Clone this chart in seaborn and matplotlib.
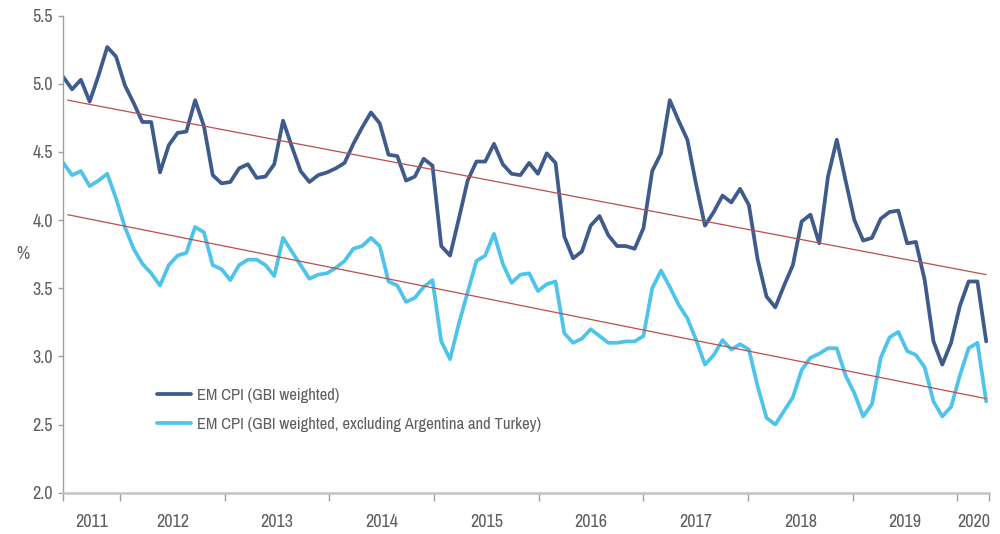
import matplotlib
matplotlib.use('Agg')
import matplotlib.pyplot as plt
from matplotlib import font_manager
from matplotlib.lines import Line2D
import numpy as np
import pandas as pd
import seaborn as sns

# monthly readings, mid-2011 to spring 2020
em_cpi = [5.05, 4.96, 5.03, 4.87, 5.06, 5.27, 5.20, 4.99, 4.86, 4.72,
          4.72, 4.35, 4.55, 4.64, 4.65, 4.88, 4.69, 4.33, 4.27, 4.28,
          4.38, 4.41, 4.31, 4.32, 4.41, 4.73, 4.54, 4.36, 4.28, 4.33,
          4.35, 4.38, 4.42, 4.56, 4.68, 4.79, 4.71, 4.48, 4.47, 4.29,
          4.32, 4.45, 4.40, 3.81, 3.74, 4.01, 4.29, 4.43, 4.43, 4.56,
          4.41, 4.34, 4.33, 4.42, 4.34, 4.49, 4.42, 3.88, 3.72, 3.77,
          3.96, 4.03, 3.89, 3.81, 3.81, 3.79, 3.94, 4.36, 4.49, 4.88,
          4.73, 4.59, 4.26, 3.96, 4.06, 4.18, 4.13, 4.23, 4.11, 3.71,
          3.44, 3.36, 3.52, 3.67, 3.99, 4.04, 3.83, 4.32, 4.59, 4.29,
          4.00, 3.85, 3.87, 4.01, 4.06, 4.07, 3.83, 3.84, 3.56, 3.11,
          2.94, 3.10, 3.37, 3.55, 3.55, 3.11]
em_cpi_ex = [4.42, 4.33, 4.36, 4.25, 4.29, 4.34, 4.16, 3.95, 3.79, 3.68,
             3.61, 3.52, 3.67, 3.74, 3.76, 3.95, 3.91, 3.67, 3.64, 3.56,
             3.67, 3.71, 3.71, 3.67, 3.59, 3.87, 3.77, 3.67, 3.57, 3.60,
             3.61, 3.65, 3.70, 3.79, 3.81, 3.87, 3.81, 3.55, 3.52, 3.40,
             3.43, 3.51, 3.56, 3.11, 2.98, 3.24, 3.47, 3.70, 3.74, 3.90,
             3.68, 3.54, 3.60, 3.61, 3.48, 3.53, 3.55, 3.17, 3.10, 3.13,
             3.20, 3.15, 3.10, 3.10, 3.11, 3.11, 3.15, 3.50, 3.63, 3.51,
             3.38, 3.28, 3.12, 2.94, 3.01, 3.12, 3.05, 3.09, 3.05, 2.78,
             2.55, 2.50, 2.60, 2.70, 2.90, 2.99, 3.02, 3.06, 3.06, 2.86,
             2.73, 2.56, 2.65, 2.99, 3.14, 3.18, 3.04, 3.01, 2.92, 2.67,
             2.56, 2.63, 2.86, 3.06, 3.10, 2.67]

# linear trend endpoints
trend_x = [0.5, 105]
trend_em = [4.88, 3.60]
trend_ex = [4.04, 2.69]

years = ['2011', '2012', '2013', '2014', '2015', '2016', '2017', '2018', '2019', '2020']
year_edges = [0, 6.45, 18.36, 30.27, 42.18, 54.09, 66.0, 77.91, 89.82, 101.73, 105.35]

labels = ['EM CPI (GBI weighted)',
          'EM CPI (GBI weighted, excluding Argentina and Turkey)']
colors = ['#3e5b8b', '#4ec4ea']
trend_color = '#b9504e'
text_color = '#5e5e5e'

df = pd.DataFrame({
    'month': list(range(len(em_cpi))) * 2,
    'value': em_cpi + em_cpi_ex,
    'series': [labels[0]] * len(em_cpi) + [labels[1]] * len(em_cpi_ex),
})

sns.set_style('white')

# the original uses a condensed face; take one if the system has it
narrow = sorted({f.name for f in font_manager.fontManager.ttflist
                 if 'Narrow' in f.name or 'Condensed' in f.name})
if narrow:
    plt.rcParams['font.family'] = [narrow[0], 'DejaVu Sans']
    fs, fs_leg = 13, 12
else:
    plt.rcParams['font.family'] = ['Liberation Sans', 'DejaVu Sans']
    fs, fs_leg = 11, 10.5

fig, ax = plt.subplots(figsize=(10, 5.34), dpi=100)
fig.subplots_adjust(left=0.0633, right=0.9893, bottom=0.0773, top=0.9706)

sns.lineplot(data=df, x='month', y='value', hue='series', palette=colors,
             linewidth=2.7, ax=ax, legend=False)
sns.lineplot(x=trend_x, y=trend_em, color=trend_color, linewidth=0.9, ax=ax, zorder=3)
sns.lineplot(x=trend_x, y=trend_ex, color=trend_color, linewidth=0.9, ax=ax, zorder=3)

ax.set_xlim(year_edges[0], year_edges[-1])
ax.set_ylim(2.0, 5.5)
ax.set_yticks(np.arange(2.0, 5.51, 0.5))
ax.set_yticklabels([f'{v:.1f}' for v in np.arange(2.0, 5.51, 0.5)])

ax.set_xticks(year_edges)
ax.set_xticklabels([])
centers = [(a + b) / 2 for a, b in zip(year_edges[:-1], year_edges[1:])]
ax.set_xticks(centers, minor=True)
ax.set_xticklabels(years, minor=True)
ax.tick_params(axis='x', which='major', length=5.5, width=1, color='#a0a0a0', direction='out', bottom=True)
ax.tick_params(axis='x', which='minor', length=0, pad=15, labelsize=fs, labelcolor=text_color)
ax.tick_params(axis='y', length=3.8, width=1, color='#a0a0a0', direction='out', left=True,
               pad=3.5, labelsize=fs, labelcolor=text_color)

ax.set_xlabel('')
ax.set_ylabel('%', rotation=0, fontsize=fs, color=text_color, labelpad=7, va='center')

sns.despine(ax=ax)
ax.spines['left'].set_color('#a0a0a0')
ax.spines['left'].set_linewidth(1)
ax.spines['bottom'].set_color('#c4c4c4')
ax.spines['bottom'].set_linewidth(1.8)

handles = [Line2D([], [], color=c, linewidth=2.7) for c in colors]
ax.legend(handles, labels, loc='center left', bbox_to_anchor=(0.0855, 0.173), frameon=False,
          fontsize=fs_leg, labelcolor=text_color, handlelength=2.0, handletextpad=0.4,
          labelspacing=0.85)

fig.savefig('out.png', dpi=100)
